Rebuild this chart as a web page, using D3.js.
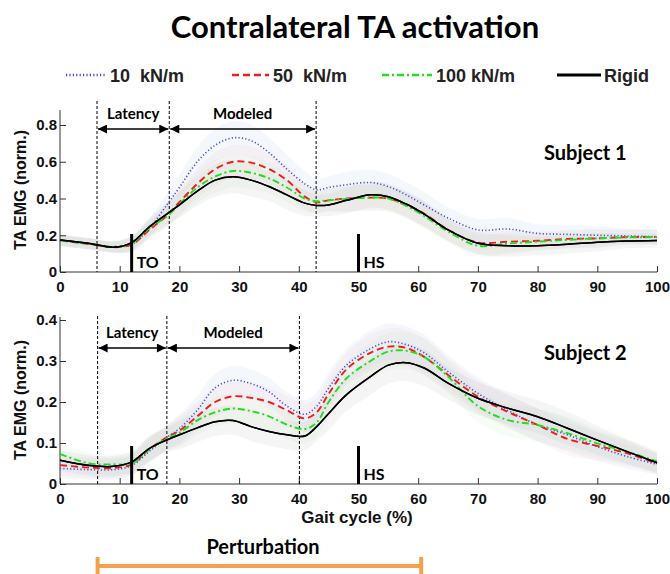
<!DOCTYPE html>
<html>
<head>
<meta charset="utf-8">
<script src="https://cdn.jsdelivr.net/npm/d3@7"></script>
<style>
  body { margin: 0; background: #fff; }
  text { font-family: "Liberation Sans", Arial, sans-serif; }
  .cal { font-family: Lato, "Open Sans", sans-serif; font-weight: bold; }
</style>
</head>
<body>
<script>
// gait cycle (%) sample points, shared by both subjects
const gait = [0, 5, 9, 12, 15, 18, 20, 23, 26, 29, 32, 35, 38, 41, 43, 45, 48, 52, 55, 58, 61, 65, 70, 75, 80, 85, 90, 95, 100];

// subject 1, TA EMG (norm.)
const s1_10 = [.172, .152, .137, .15, .24, .37, .46, .6, .69, .73, .715, .65, .56, .48, .447, .46, .475, .487, .465, .42, .365, .294, .229, .234, .21, .205, .2, .196, .192];
const s1_50 = [.172, .152, .135, .15, .23, .31, .38, .48, .56, .6, .595, .56, .5, .41, .38, .39, .4, .405, .4, .365, .318, .23, .16, .165, .17, .18, .183, .19, .19];
const s1_100 = [.172, .153, .137, .155, .24, .305, .37, .46, .52, .55, .54, .51, .46, .4, .385, .39, .398, .405, .4, .36, .305, .22, .143, .155, .165, .175, .183, .188, .19];
const s1_rigid = [.174, .155, .135, .16, .247, .318, .365, .44, .5, .518, .5, .465, .42, .375, .362, .365, .39, .42, .41, .37, .315, .229, .156, .143, .143, .151, .162, .169, .172];
const s1_spread = [.03, .03, .03, .04, .05, .06, .07, .08, .09, .09, .09, .08, .08, .07, .06, .06, .07, .07, .07, .07, .07, .06, .06, .06, .05, .05, .05, .04, .04];

// subject 2
const s2_10 = [.038, .035, .035, .045, .08, .115, .135, .18, .235, .253, .245, .225, .19, .17, .19, .234, .29, .33, .347, .34, .32, .274, .221, .18, .144, .12, .091, .067, .048];
const s2_50 = [.046, .04, .039, .048, .085, .115, .13, .165, .2, .214, .21, .2, .18, .16, .175, .22, .28, .32, .335, .332, .31, .266, .213, .176, .144, .11, .093, .075, .05];
const s2_100 = [.073, .05, .048, .05, .085, .112, .125, .155, .175, .184, .178, .165, .145, .134, .15, .2, .258, .3, .323, .325, .31, .262, .19, .156, .144, .124, .099, .079, .055];
const s2_rigid = [.058, .045, .043, .054, .087, .108, .12, .137, .152, .155, .14, .128, .12, .117, .14, .172, .218, .262, .29, .296, .283, .246, .209, .185, .164, .136, .107, .079, .052];
const s2_spread = [.025, .025, .025, .025, .03, .03, .035, .035, .035, .035, .035, .035, .035, .035, .035, .04, .04, .045, .045, .045, .045, .04, .04, .04, .04, .04, .035, .03, .025];

// event markers and windows
const s1_events = [6.2, 18.3, 42.9];
const s2_events = [6.3, 17.9, 40.1];
const toe_off = 12, heel_strike = 50;
const xTicks = [0, 10, 20, 30, 40, 50, 60, 70, 80, 90, 100];
const y1Ticks = [0, 0.2, 0.4, 0.6, 0.8];
const y2Ticks = [0, 0.1, 0.2, 0.3, 0.4];
const conditions = ["10  kN/m", "50  kN/m", "100 kN/m", "Rigid"];
const perturbation = [6.3, 60.5];

const styles = [
  { color: "#4a4ad8", dash: "1.2,2.2", width: 1.6, band: "#a9c8f0" },
  { color: "#ee1c1c", dash: "7,4", width: 1.9, band: "#f0b0c0" },
  { color: "#1ede1e", dash: "7,3,2,3", width: 1.9, band: "#b8eab8" },
  { color: "#000", dash: null, width: 1.5, band: "#b0b0b0" }
];

const W = 670, H = 574;
const svg = d3.select("body").append("svg").attr("width", W).attr("height", H);

const defs = svg.append("defs");
defs.append("marker").attr("id", "arr")
  .attr("viewBox", "0 0 10 10").attr("refX", 10).attr("refY", 5)
  .attr("markerWidth", 11).attr("markerHeight", 9).attr("markerUnits", "userSpaceOnUse")
  .attr("orient", "auto-start-reverse")
  .append("path").attr("d", "M0,0L10,5L0,10Z").attr("fill", "#000");

const x = d3.scaleLinear().domain([0, 100]).range([60, 657]);

// title
svg.append("text").attr("class", "cal").attr("x", 355).attr("y", 38)
  .attr("text-anchor", "middle").style("font-size", "31px").text("Contralateral TA activation");

// legend
const legX = [[66, 105], [232, 269], [382, 432], [557, 601]];
const legTextX = [110, 273, 436, 604];
conditions.forEach((c, i) => {
  svg.append("line").attr("x1", legX[i][0]).attr("x2", legX[i][1]).attr("y1", 75).attr("y2", 75)
    .attr("stroke", styles[i].color).attr("stroke-width", i == 3 ? 3 : 2.6)
    .attr("stroke-dasharray", styles[i].dash);
  svg.append("text").attr("x", legTextX[i]).attr("y", 82).style("font-size", "18px")
    .style("white-space", "pre").style("font-weight", "bold").attr("fill", "#222").text(c);
});

function panel(opt) {
  const y = d3.scaleLinear().domain([0, opt.yMax]).range([opt.y0, opt.yTop]);
  const g = svg.append("g");

  // shaded spread bands
  opt.series.forEach((s, i) => {
    const area = d3.area().curve(d3.curveCatmullRom)
      .x((d, j) => x(gait[j])).y0((d, j) => y(d - opt.spread[j])).y1((d, j) => y(d + opt.spread[j]));
    g.append("path").datum(s).attr("d", area).attr("fill", styles[i].band).attr("opacity", 0.13);
  });

  // axes
  const xa = d3.axisBottom(x).tickValues(xTicks).tickSizeInner(-6).tickSizeOuter(0).tickPadding(9);
  g.append("g").attr("transform", `translate(0,${opt.y0})`).call(xa)
    .call(a => a.select(".domain").remove())
    .selectAll("text").style("font-size", "15px").style("font-weight", "bold").attr("fill", "#111");
  const ya = d3.axisLeft(y).tickValues(opt.yTicks).tickSizeInner(-6).tickSizeOuter(0).tickPadding(3)
    .tickFormat(d => d === 0 ? "0" : d3.format(".1f")(d));
  g.append("g").attr("transform", `translate(${x(0)},0)`).call(ya)
    .call(a => a.select(".domain").remove())
    .selectAll("text").style("font-size", "15px").style("font-weight", "bold").attr("fill", "#111");
  g.selectAll(".tick line").attr("stroke", "#333");
  g.append("line").attr("x1", x(0)).attr("x2", x(100)).attr("y1", opt.y0).attr("y2", opt.y0).attr("stroke", "#333");
  g.append("line").attr("x1", x(0)).attr("x2", x(0)).attr("y1", opt.y0).attr("y2", opt.axisTop).attr("stroke", "#333");

  g.append("text").attr("transform", `translate(26,${opt.labelY}) rotate(-90)`)
    .attr("text-anchor", "middle").style("font-size", "16px").style("font-weight", "bold")
    .attr("fill", "#111").text("TA EMG (norm.)");

  // dashed event lines
  opt.events.forEach(e => {
    g.append("line").attr("x1", x(e)).attr("x2", x(e)).attr("y1", opt.dashTop).attr("y2", opt.y0)
      .attr("stroke", "#000").attr("stroke-width", 1).attr("stroke-dasharray", "3,2");
  });

  // arrows
  [["Latency", 0, 1], ["Modeled", 1, 2]].forEach(([lab, a, b]) => {
    g.append("line").attr("x1", x(opt.events[a]) + 1).attr("x2", x(opt.events[b]) - 1)
      .attr("y1", opt.arrowY).attr("y2", opt.arrowY).attr("stroke", "#000").attr("stroke-width", 1.5)
      .attr("marker-start", "url(#arr)").attr("marker-end", "url(#arr)");
    g.append("text").attr("class", "cal").attr("x", (x(opt.events[a]) + x(opt.events[b])) / 2)
      .attr("y", opt.arrowY - 10).attr("text-anchor", "middle").style("font-size", "15px").text(lab);
  });

  // curves
  opt.series.forEach((s, i) => {
    const line = d3.line().curve(d3.curveCatmullRom).x((d, j) => x(gait[j])).y(d => y(d));
    g.append("path").datum(s).attr("d", line).attr("fill", "none")
      .attr("stroke", styles[i].color).attr("stroke-width", styles[i].width)
      .attr("stroke-dasharray", styles[i].dash);
  });
  // redraw rigid on top
  g.append("path").datum(opt.series[3])
    .attr("d", d3.line().curve(d3.curveCatmullRom).x((d, j) => x(gait[j])).y(d => y(d)))
    .attr("fill", "none").attr("stroke", "#000").attr("stroke-width", 1.5);

  // TO / HS markers
  [[toe_off, "TO"], [heel_strike, "HS"]].forEach(([e, lab]) => {
    g.append("line").attr("x1", x(e)).attr("x2", x(e)).attr("y1", opt.y0).attr("y2", opt.y0 - 38)
      .attr("stroke", "#000").attr("stroke-width", 3);
    g.append("text").attr("class", "cal").attr("x", x(e) + 5).attr("y", opt.y0 - 4)
      .style("font-size", "16px").text(lab);
  });

  g.append("text").attr("class", "cal").attr("x", 544).attr("y", opt.subjY)
    .style("font-size", "20px").text(opt.subject);
}

panel({ series: [s1_10, s1_50, s1_100, s1_rigid], spread: s1_spread, yMax: 0.8, y0: 272, yTop: 125,
  axisTop: 110, yTicks: y1Ticks, events: s1_events, dashTop: 101, arrowY: 129, labelY: 190,
  subject: "Subject 1", subjY: 160 });
panel({ series: [s2_10, s2_50, s2_100, s2_rigid], spread: s2_spread, yMax: 0.4, y0: 484, yTop: 320,
  axisTop: 317, yTicks: y2Ticks, events: s2_events, dashTop: 316, arrowY: 348, labelY: 400,
  subject: "Subject 2", subjY: 360 });

svg.append("text").attr("x", 357).attr("y", 523).attr("text-anchor", "middle")
  .style("font-size", "17px").style("font-weight", "bold").attr("fill", "#111").text("Gait cycle (%)");

// perturbation window
svg.append("text").attr("class", "cal").attr("x", 263).attr("y", 554).attr("text-anchor", "middle")
  .style("font-size", "20px").text("Perturbation");
const py = 566;
svg.append("line").attr("x1", x(perturbation[0])).attr("x2", x(perturbation[1])).attr("y1", py).attr("y2", py)
  .attr("stroke", "#f5a04f").attr("stroke-width", 4);
perturbation.forEach(p => {
  svg.append("line").attr("x1", x(p)).attr("x2", x(p)).attr("y1", py - 9).attr("y2", 574)
    .attr("stroke", "#f5a04f").attr("stroke-width", 4);
});
</script>
</body>
</html>
